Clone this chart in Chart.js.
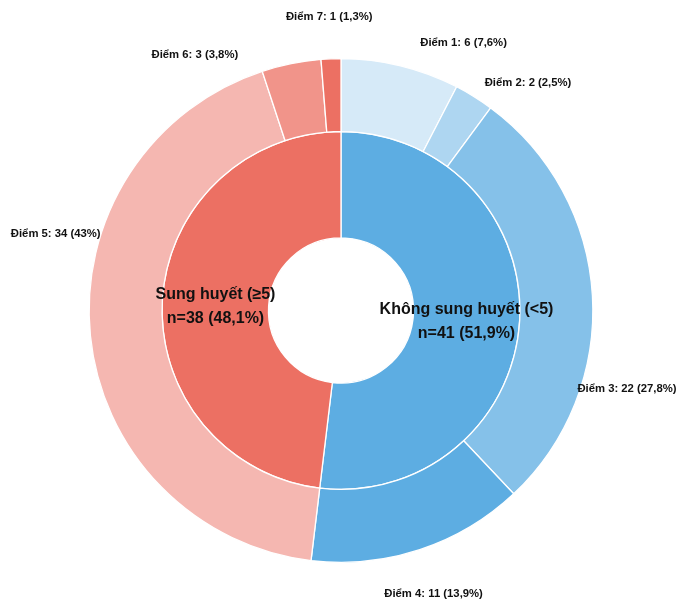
<!DOCTYPE html>
<html>
<head>
<meta charset="utf-8">
<script src="https://cdn.jsdelivr.net/npm/chart.js@4.4.1/dist/chart.umd.min.js"></script>
<style>
  html, body { margin: 0; padding: 0; background: #fff; }
  canvas { display: block; }
</style>
</head>
<body>
<canvas id="nestedPie" width="678" height="600"></canvas>
<script>
// outer ring: symptom score breakdown
const scoreLabels = ['Điểm 1', 'Điểm 2', 'Điểm 3', 'Điểm 4', 'Điểm 5', 'Điểm 6', 'Điểm 7'];
const scoreCounts = [6, 2, 22, 11, 34, 3, 1];
const scoreColors = ['#D6EAF8', '#AED6F1', '#85C1E9', '#5DADE2', '#F5B7B1', '#F1948A', '#EC7063'];

// inner ring: groups
const groupLabels = ['Không sung huyết (<5)', 'Sung huyết (≥5)'];
const groupCounts = [41, 38];
const groupColors = ['#5DADE2', '#EC7063'];

const total = scoreCounts.reduce((a, b) => a + b, 0);

function pct(v) {
  let s = (v / total * 100).toFixed(1);
  if (s.endsWith('.0')) s = s.slice(0, -2);
  return s.replace('.', ',') + '%';
}

const FONT = '"Liberation Sans", Arial, sans-serif';

// draws text labels around the outer ring and inside the inner ring
const ringLabels = {
  id: 'ringLabels',
  afterDatasetsDraw(chart, args, opts) {
    const ctx = chart.ctx;
    ctx.save();
    ctx.fillStyle = '#111';
    ctx.textAlign = 'center';
    ctx.textBaseline = 'middle';

    ctx.font = 'bold 11.3px ' + FONT;
    chart.getDatasetMeta(0).data.forEach((arc, i) => {
      const p = arc.getProps(['x', 'y', 'startAngle', 'endAngle', 'outerRadius'], true);
      const a = (p.startAngle + p.endAngle) / 2 + opts.shift[i] * Math.PI / 180;
      const r = p.outerRadius * opts.dist;
      const txt = scoreLabels[i] + ': ' + scoreCounts[i] + ' (' + pct(scoreCounts[i]) + ')';
      ctx.fillText(txt, p.x + r * Math.cos(a), p.y + r * Math.sin(a) + 2);
    });

    ctx.font = 'bold 16px ' + FONT;
    chart.getDatasetMeta(1).data.forEach((arc, i) => {
      const c = arc.getCenterPoint(true);
      ctx.fillText(groupLabels[i], c.x, c.y - 8);
      ctx.fillText('n=' + groupCounts[i] + ' (' + pct(groupCounts[i]) + ')', c.x, c.y + 16);
    });
    ctx.restore();
  }
};

new Chart(document.getElementById('nestedPie').getContext('2d'), {
  type: 'doughnut',
  data: {
    labels: scoreLabels,
    datasets: [
      {
        data: scoreCounts,
        backgroundColor: scoreColors,
        borderColor: '#fff',
        borderWidth: 1.3,
        weight: 73
      },
      {
        data: groupCounts,
        backgroundColor: groupColors,
        borderColor: '#fff',
        borderWidth: 1.3,
        weight: 106.5
      }
    ]
  },
  options: {
    responsive: false,
    animation: false,
    cutout: '28.8%',
    layout: { padding: { top: 58, bottom: 37, left: 88, right: 84 } },
    plugins: {
      legend: { display: false },
      tooltip: { enabled: false },
      ringLabels: {
        dist: 1.175,
        shift: [10.8, 7.3, 18.3, 0, 21.1, -18.2, 0]
      }
    }
  },
  plugins: [ringLabels]
});
</script>
</body>
</html>
